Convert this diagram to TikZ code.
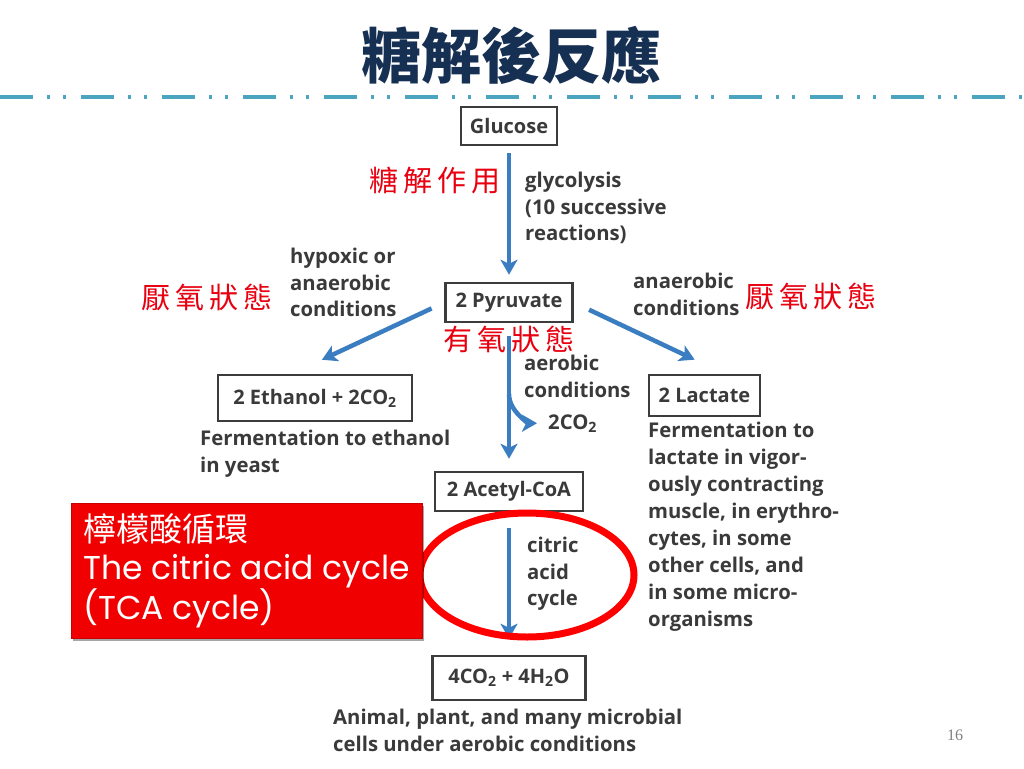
\documentclass[tikz,border=0pt]{standalone}
\usepackage{fontspec}
\newfontfamily\diag{Open Sans}
\newfontfamily\cjk{Noto Sans CJK TC}
\newfontfamily\comic{Poppins}
\newfontfamily\serifnum{Liberation Serif}
\usetikzlibrary{arrows.meta,shapes.geometric,shadows,calc}
\definecolor{arrowblue}{RGB}{59,125,193}
\definecolor{txtgrey}{RGB}{58,58,58}
\definecolor{boxgrey}{RGB}{60,60,60}
\definecolor{titlenavy}{RGB}{22,48,84}
\definecolor{dashteal}{RGB}{75,165,190}
\definecolor{labelred}{RGB}{232,0,16}
\definecolor{boxred}{RGB}{240,0,0}
\definecolor{boxredline}{RGB}{200,0,0}
\tikzset{
  chem/.style={draw=boxgrey, line width=2.5pt, inner sep=0pt, text=txtgrey,
    font=\diag\bfseries\fontsize{20}{26}\selectfont},
  note/.style={inner sep=0pt, anchor=north west, align=left, text=txtgrey,
    font=\diag\bfseries\fontsize{20.3}{26.5}\selectfont},
  lacnote/.style={note, font=\diag\bfseries\fontsize{20.3}{27}\selectfont},
  redlabel/.style={text=labelred, inner sep=0pt, font=\cjk\fontsize{29}{30}\selectfont},
  flow/.style={draw=arrowblue, line width=4.5pt, -{Stealth[length=15pt,width=17pt,inset=4pt]}},
  redbox/.style={fill=boxred, draw=boxredline, line width=1pt, text=white, align=left,
    minimum width=351pt, minimum height=135pt, inner sep=0pt,
    font=\comic\fontsize{33}{38}\selectfont,
    drop shadow={shadow xshift=2pt, shadow yshift=-3pt, opacity=0.35, fill=black}},
  ring/.style={draw=red, line width=7pt, ellipse, inner sep=0pt},
}
\begin{document}
\begin{tikzpicture}[x=1pt, y=-1pt]
\useasboundingbox (0,0) rectangle (1024,768);
\fill[white] (0,0) rectangle (1024,768);

% title and rule
\node[font=\cjk\bfseries\fontsize{60}{60}\selectfont, text=titlenavy] (title) at (511,55) {糖解後反應};
\draw[dashteal, line width=4.5pt, dash pattern=on 33pt off 14pt on 3pt off 13pt on 3pt off 15pt] (0,97) -- (1024,97);

% boxes
\node[chem, minimum width=96pt, minimum height=38pt] (glu) at (509,126) {Glucose};
\node[chem, minimum width=127pt, minimum height=39pt] (pyr) at (509,302.5) {2 Pyruvate};
\node[chem, minimum width=194pt, minimum height=46pt] (eth) at (315,398) {2 Ethanol + 2CO\textsubscript{2}};
\node[chem, minimum width=111pt, minimum height=41pt] (lac) at (704.5,395.5) {2 Lactate};
\node[chem, minimum width=148pt, minimum height=39pt] (acc) at (509,491.5) {2 Acetyl-CoA};
\node[chem, minimum width=153pt, minimum height=44pt] (fin) at (509,678) {4CO\textsubscript{2} + 4H\textsubscript{2}O};

% notes
\node[note] (gly) at (525,172) {glycolysis\\(10 successive\\reactions)};
\node[note] (hyp) at (290,248) {hypoxic or\\anaerobic\\conditions};
\node[note] (anr) at (633,273) {anaerobic\\conditions};
\node[note] (aer) at (524,355) {aerobic\\conditions};
\node[note, anchor=base west] (co2) at (548,429) {2CO\textsubscript{2}};
\node[note] (ethn) at (200,430) {Fermentation to ethanol\\in yeast};
\node[lacnote] (lacn) at (648,422) {Fermentation to\\lactate in vigor-\\ously contracting\\muscle, in erythro-\\cytes, in some\\other cells, and\\in some micro-\\organisms};
\node[note] (cacn) at (527,537) {citric\\acid\\cycle};
\node[note] (anim) at (333,709) {Animal, plant, and many microbial\\cells under aerobic conditions};

% arrows
\coordinate (br) at ($(pyr.south)!0.48!(acc.north)$);
\draw[flow, shorten <=7pt, shorten >=7pt] (glu) -- (pyr);
\draw[flow, shorten <=14pt, shorten >=33pt] (pyr.west) -- ([xshift=-23pt]eth.north);
\draw[flow, shorten <=17pt, shorten >=33pt] (pyr.east) -- ([xshift=20pt]lac.north);
\draw[flow, shorten <=13pt, shorten >=12pt] (pyr) -- (acc);
\draw[flow, shorten >=11pt] (br) .. controls +(0,18) and +(-18,0) .. (co2.west);
\draw[flow, shorten <=16pt, shorten >=16pt] (acc) -- (fin);

% red labels
\node[redlabel] (tj) at (435,181) {糖\,解\,作\,用};
\node[redlabel] (yl) at (207,297) {厭\,氧\,狀\,態};
\node[redlabel] (yr) at (811,296) {厭\,氧\,狀\,態};
\node[redlabel] (yo) at (509,339) {有\,氧\,狀\,態};

% TCA highlight
\node[ring, minimum width=214pt, minimum height=124pt] (cyc) at (527,575) {};
\node[redbox] (tca) at (246.5,570.5) {{\cjk\fontsize{33}{38}\selectfont 檸檬酸循環}\\The citric acid cycle\\(TCA cycle)};

% page number
\node[font=\serifnum\fontsize{16}{16}\selectfont, text=gray] (pg) at (955,735) {16};
\end{tikzpicture}
\end{document}
